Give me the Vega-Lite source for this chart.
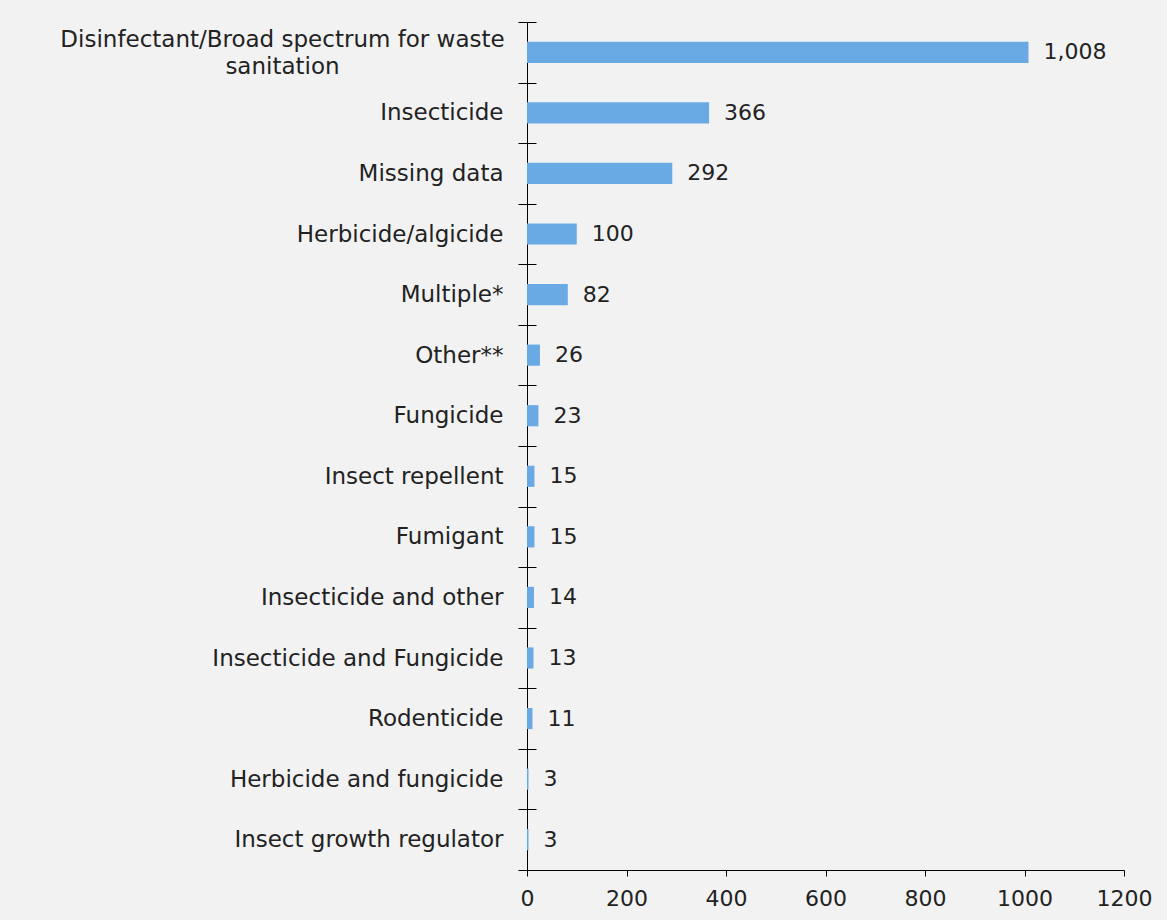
{
  "$schema": "https://vega.github.io/schema/vega-lite/v6.json",
  "width": 597,
  "height": 848,
  "autosize": {"type": "none"},
  "padding": {"left": 527, "top": 22, "right": 43, "bottom": 50},
  "background": "#f2f2f2",
  "config": {"view": {"stroke": null}, "font": "DejaVu Sans"},
  "data": {"values": [
    {"category": "Disinfectant/Broad spectrum for waste sanitation", "count": 1008},
    {"category": "Insecticide", "count": 366},
    {"category": "Missing data", "count": 292},
    {"category": "Herbicide/algicide", "count": 100},
    {"category": "Multiple*", "count": 82},
    {"category": "Other**", "count": 26},
    {"category": "Fungicide", "count": 23},
    {"category": "Insect repellent", "count": 15},
    {"category": "Fumigant", "count": 15},
    {"category": "Insecticide and other", "count": 14},
    {"category": "Insecticide and Fungicide", "count": 13},
    {"category": "Rodenticide", "count": 11},
    {"category": "Herbicide and fungicide", "count": 3},
    {"category": "Insect growth regulator", "count": 3}
  ]},
  "encoding": {
    "x": {
      "field": "count", "type": "quantitative", "title": null,
      "scale": {"domain": [0, 1200], "nice": false},
      "axis": {
        "values": [0, 200, 400, 600, 800, 1000, 1200], "grid": false, "labelFlush": false,
        "domainColor": "#000000", "tickColor": "#000000", "tickSize": 6,
        "labelFontSize": 22, "labelColor": "#222222", "labelPadding": 12, "format": "d"
      }
    }
  },
  "layer": [
    {
      "mark": {"type": "bar", "color": "#6aaae4", "height": {"band": 0.35}},
      "encoding": {
        "y": {
          "field": "category", "type": "nominal", "sort": null, "title": null,
          "scale": {"paddingInner": 0, "paddingOuter": 0},
          "axis": {
            "orient": "left",
            "domainColor": "#000000", "tickColor": "#000000", "tickSize": 9, "tickBand": "extent",
            "labelFontSize": 23, "labelColor": "#222222", "labelLimit": 700,
            "labelAlign": {"condition": {"test": "datum.value == 'Disinfectant/Broad spectrum for waste sanitation'", "value": "center"}, "value": "right"},
            "labelPadding": {"condition": {"test": "datum.value == 'Disinfectant/Broad spectrum for waste sanitation'", "value": 236}, "value": 15},
            "labelOffset": {"condition": {"test": "datum.value == 'Disinfectant/Broad spectrum for waste sanitation'", "value": -13}, "value": 0},
            "labelExpr": "datum.label == 'Disinfectant/Broad spectrum for waste sanitation' ? ['Disinfectant/Broad spectrum for waste', 'sanitation'] : datum.label",
            "labelLineHeight": 27
          }
        }
      }
    },
    {
      "mark": {"type": "text", "align": "left", "baseline": "middle", "dx": 15, "fontSize": 22, "color": "#222222"},
      "encoding": {
        "y": {
          "field": "category", "type": "nominal", "sort": null, "title": null,
          "axis": {
            "orient": "right", "offset": -597, "labels": false, "domain": false,
            "tickColor": "#000000", "tickSize": 9, "tickBand": "extent"
          }
        },
        "text": {"field": "count", "type": "quantitative", "format": ","}
      }
    }
  ],
  "resolve": {"axis": {"y": "independent"}}
}
